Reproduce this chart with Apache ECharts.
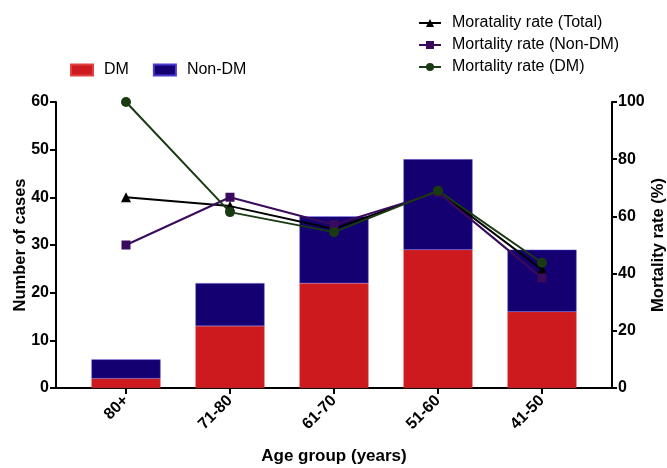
<!DOCTYPE html>
<html>
<head>
<meta charset="utf-8">
<script src="https://cdn.jsdelivr.net/npm/echarts@6/dist/echarts.min.js"></script>
<style>
  html, body { margin: 0; padding: 0; background: #fff; }
  #chart { width: 667px; height: 468px; }
</style>
</head>
<body>
<div id="chart"></div>
<script>
// data
const ageGroups = ['80+', '71-80', '61-70', '51-60', '41-50'];
const dmCases = [2, 13, 22, 29, 16];
const nonDmCases = [4, 9, 14, 19, 13];
const rateTotal = [66.7, 63.6, 55.6, 68.8, 41.4];
const rateNonDm = [50, 66.7, 57.1, 68.4, 38.5];
const rateDm = [100, 61.5, 54.5, 69.0, 43.8];
const leftTicks = [0, 10, 20, 30, 40, 50, 60];
const rightTicks = [0, 20, 40, 60, 80, 100];

const font = 'Liberation Sans, Arial, sans-serif';
const chart = echarts.init(document.getElementById('chart'));

// grid 0 carries the visible frame axes, grid 1 carries the categories + data
const axisLine = {show: true, lineStyle: {color: '#000', width: 2}};
const tickLabel = {color: '#000', fontWeight: 'bold', fontSize: 16, fontFamily: font};
const nameStyle = {fontSize: 16.5, fontWeight: 'bold', fontFamily: font, color: '#000'};

const option = {
  animation: false,
  legend: [
    {
      data: ['DM', 'Non-DM'],
      left: 65, top: 57,
      icon: 'rect',
      itemWidth: 22, itemHeight: 11, itemGap: 24,
      textStyle: {fontSize: 16, fontFamily: font, color: '#000', padding: [0, 0, 0, 6]}
    },
    {
      data: ['Moratality rate (Total)', 'Mortality rate (Non-DM)', 'Mortality rate (DM)'],
      orient: 'vertical',
      left: 413, top: 10,
      itemWidth: 22, itemHeight: 10, itemGap: 6,
      textStyle: {fontSize: 16, lineHeight: 16, fontFamily: font, color: '#000', padding: [0, 0, 0, 6]}
    }
  ],
  grid: [
    {left: 56, right: 55, top: 102, bottom: 80, outerBoundsMode: 'none', containLabel: false},
    {left: 74, right: 73, top: 102, bottom: 80, outerBoundsMode: 'none', containLabel: false}
  ],
  xAxis: [
    {
      gridIndex: 0, type: 'value', min: 0, max: 1,
      axisLine: axisLine, axisTick: {show: false}, axisLabel: {show: false}, splitLine: {show: false}
    },
    {
      gridIndex: 1, type: 'category', data: ageGroups,
      axisLine: {show: false},
      axisTick: {show: true, alignWithLabel: true, length: 6, lineStyle: {color: '#000', width: 2}},
      axisLabel: Object.assign({}, tickLabel, {rotate: 45, margin: 10}),
      name: 'Age group (years)', nameLocation: 'middle', nameGap: 60,
      nameTextStyle: Object.assign({}, nameStyle, {fontSize: 17})
    }
  ],
  yAxis: [
    {
      gridIndex: 0, type: 'value', min: 0, max: 60, interval: 10, position: 'left',
      axisLine: axisLine,
      axisTick: {show: true, length: 6, lineStyle: {color: '#000', width: 2}},
      axisLabel: Object.assign({margin: 7, formatter: v => leftTicks.includes(v) ? v : ''}, tickLabel),
      splitLine: {show: false},
      name: 'Number of cases', nameLocation: 'middle', nameRotate: 90, nameGap: 27,
      nameMoveOverlap: false,
      nameTextStyle: nameStyle
    },
    {
      gridIndex: 0, type: 'value', min: 0, max: 100, interval: 20, position: 'right',
      axisLine: axisLine,
      axisTick: {show: true, length: 5, lineStyle: {color: '#000', width: 2}},
      axisLabel: Object.assign({margin: 6, formatter: v => rightTicks.includes(v) ? v : ''}, tickLabel),
      splitLine: {show: false},
      name: 'Mortality rate (%)', nameLocation: 'middle', nameRotate: 90, nameGap: 38,
      nameMoveOverlap: false,
      nameTextStyle: nameStyle
    },
    {gridIndex: 1, type: 'value', min: 0, max: 60, show: false},
    {gridIndex: 1, type: 'value', min: 0, max: 100, show: false}
  ],
  series: [
    {
      name: 'DM', type: 'bar', stack: 'cases', data: dmCases,
      xAxisIndex: 1, yAxisIndex: 2, barWidth: 69,
      itemStyle: {color: '#cc1a1e', borderColor: '#e04040', borderWidth: 0.5}
    },
    {
      name: 'Non-DM', type: 'bar', stack: 'cases', data: nonDmCases,
      xAxisIndex: 1, yAxisIndex: 2, barWidth: 69,
      itemStyle: {color: '#140070', borderColor: '#4a3ad0', borderWidth: 0.5}
    },
    {
      name: 'Moratality rate (Total)', type: 'line', data: rateTotal,
      xAxisIndex: 1, yAxisIndex: 3,
      symbol: 'triangle', symbolSize: 10,
      lineStyle: {color: '#000', width: 2}, itemStyle: {color: '#000'}
    },
    {
      name: 'Mortality rate (Non-DM)', type: 'line', data: rateNonDm,
      xAxisIndex: 1, yAxisIndex: 3,
      symbol: 'rect', symbolSize: 9,
      lineStyle: {color: '#3a0a5c', width: 2}, itemStyle: {color: '#3a0a5c'}
    },
    {
      name: 'Mortality rate (DM)', type: 'line', data: rateDm,
      xAxisIndex: 1, yAxisIndex: 3,
      symbol: 'circle', symbolSize: 10,
      lineStyle: {color: '#1a3a12', width: 2}, itemStyle: {color: '#1a3a12'}
    }
  ]
};

chart.setOption(option);
</script>
</body>
</html>
